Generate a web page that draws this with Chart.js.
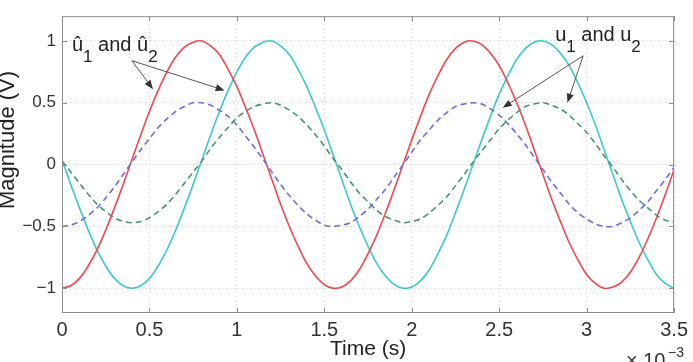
<!DOCTYPE html>
<html>
<head>
<meta charset="utf-8">
<script src="https://cdn.jsdelivr.net/npm/chart.js@4.4.1/dist/chart.umd.min.js"></script>
<style>
  html, body { margin: 0; padding: 0; background: #fff; }
  #wrap { width: 693px; height: 362px; }
</style>
</head>
<body>
<div id="wrap"><canvas id="waveChart" width="693" height="362"></canvas></div>
<script>
// time step of the samples, in ms (axis is shown as x 10^-3 s)
const sampleStepMs = 0.05;

// one value every 0.05 ms from 0 to 3.5 ms
const uHat1 = [
  -1, -0.98, -0.92, -0.82, -0.69, -0.53, -0.35, -0.16, 0.04, 0.24,
  0.43, 0.60, 0.75, 0.87, 0.95, 0.99, 1.00, 0.96, 0.89, 0.77,
  0.63, 0.46, 0.28, 0.08, -0.12, -0.32, -0.50, -0.66, -0.80, -0.90,
  -0.97, -1.00, -0.99, -0.94, -0.85, -0.72, -0.57, -0.39, -0.20, 0.00,
  0.20, 0.39, 0.57, 0.72, 0.85, 0.94, 0.99, 1.00, 0.97, 0.90,
  0.80, 0.66, 0.50, 0.32, 0.12, -0.08, -0.28, -0.46, -0.63, -0.77,
  -0.89, -0.96, -1.00, -0.99, -0.95, -0.87, -0.75, -0.60, -0.43, -0.24,
  -0.04
];
const uHat2 = [
  0.04, -0.16, -0.35, -0.53, -0.69, -0.82, -0.92, -0.98, -1, -0.98,
  -0.92, -0.82, -0.69, -0.53, -0.35, -0.16, 0.04, 0.24, 0.43, 0.60,
  0.75, 0.87, 0.95, 0.99, 1.00, 0.96, 0.89, 0.77, 0.63, 0.46,
  0.28, 0.08, -0.12, -0.32, -0.50, -0.66, -0.80, -0.90, -0.97, -1.00,
  -0.99, -0.94, -0.85, -0.72, -0.57, -0.39, -0.20, 0.00, 0.20, 0.39,
  0.57, 0.72, 0.85, 0.94, 0.99, 1.00, 0.97, 0.90, 0.80, 0.66,
  0.50, 0.32, 0.12, -0.08, -0.28, -0.46, -0.63, -0.77, -0.89, -0.96,
  -1.00
];
const u1 = [
  -0.50, -0.49, -0.46, -0.41, -0.35, -0.27, -0.18, -0.08, 0.02, 0.12,
  0.21, 0.30, 0.37, 0.43, 0.47, 0.50, 0.50, 0.48, 0.44, 0.39,
  0.32, 0.23, 0.14, 0.04, -0.06, -0.16, -0.25, -0.33, -0.40, -0.45,
  -0.49, -0.50, -0.49, -0.47, -0.42, -0.36, -0.28, -0.20, -0.10, 0.00,
  0.10, 0.20, 0.28, 0.36, 0.42, 0.47, 0.49, 0.50, 0.49, 0.45,
  0.40, 0.33, 0.25, 0.16, 0.06, -0.04, -0.14, -0.23, -0.32, -0.39,
  -0.44, -0.48, -0.50, -0.50, -0.47, -0.43, -0.37, -0.30, -0.21, -0.12,
  -0.02
];
const u2 = [
  0.03, -0.06, -0.15, -0.24, -0.32, -0.38, -0.43, -0.46, -0.47, -0.46,
  -0.43, -0.38, -0.32, -0.24, -0.15, -0.06, 0.03, 0.13, 0.22, 0.30,
  0.38, 0.43, 0.47, 0.49, 0.50, 0.48, 0.44, 0.39, 0.32, 0.24,
  0.15, 0.05, -0.04, -0.14, -0.23, -0.30, -0.37, -0.42, -0.45, -0.47,
  -0.46, -0.44, -0.39, -0.33, -0.26, -0.17, -0.08, 0.02, 0.11, 0.20,
  0.29, 0.36, 0.42, 0.47, 0.49, 0.50, 0.48, 0.45, 0.40, 0.33,
  0.26, 0.17, 0.07, -0.02, -0.12, -0.21, -0.29, -0.35, -0.41, -0.45,
  -0.47
];

const xTicks = [0, 0.5, 1, 1.5, 2, 2.5, 3, 3.5];
const yTicks = [-1, -0.5, 0, 0.5, 1];

// annotation anchors in data units (ms, V)
const hatLabel = { x: 0.057, y: 0.92 };
const hatArrowFrom = { x: 0.40, y: 0.84 };
const hatArrowTo = [{ x: 0.52, y: 0.61 }, { x: 0.93, y: 0.60 }];
const plainLabel = { x: 2.82, y: 1.0 };
const plainArrowFrom = { x: 2.98, y: 0.88 };
const plainArrowTo = [{ x: 2.52, y: 0.46 }, { x: 2.89, y: 0.50 }];

const timeMs = uHat1.map((_, i) => +(i * sampleStepMs).toFixed(2));
const toPoints = arr => arr.map((v, i) => ({ x: timeMs[i], y: v }));

const FONT = "'Liberation Sans', Arial, Helvetica, sans-serif";

function arrow(ctx, x0, y0, x1, y1) {
  const ang = Math.atan2(y1 - y0, x1 - x0);
  const len = 9, half = 3.5;
  ctx.beginPath();
  ctx.moveTo(x0, y0);
  ctx.lineTo(x1 - Math.cos(ang) * len, y1 - Math.sin(ang) * len);
  ctx.stroke();
  ctx.beginPath();
  ctx.moveTo(x1, y1);
  ctx.lineTo(x1 - Math.cos(ang) * len - Math.sin(ang) * half, y1 - Math.sin(ang) * len + Math.cos(ang) * half);
  ctx.lineTo(x1 - Math.cos(ang) * len + Math.sin(ang) * half, y1 - Math.sin(ang) * len - Math.cos(ang) * half);
  ctx.closePath();
  ctx.fill();
}

function labelWithSubs(ctx, x, y, parts) {
  // parts: [text, isSub]
  let cx = x;
  parts.forEach(([txt, sub]) => {
    ctx.font = (sub ? '17px ' : '20px ') + FONT;
    ctx.fillText(txt, cx, sub ? y + 11 : y);
    cx += ctx.measureText(txt).width;
  });
}

const framePlugin = {
  id: 'frame',
  afterDatasetsDraw(chart) {
    const { ctx, chartArea: a, scales } = chart;
    const sx = scales.x, sy = scales.y;
    ctx.save();
    // box and inward ticks
    ctx.strokeStyle = '#8c8c8c';
    ctx.lineWidth = 1;
    ctx.strokeRect(a.left + 0.5, a.top + 0.5, a.right - a.left - 1, a.bottom - a.top - 1);
    ctx.beginPath();
    xTicks.forEach(t => {
      const px = Math.round(sx.getPixelForValue(t)) + 0.5;
      ctx.moveTo(px, a.bottom); ctx.lineTo(px, a.bottom - 5);
      ctx.moveTo(px, a.top); ctx.lineTo(px, a.top + 5);
    });
    yTicks.forEach(t => {
      const py = Math.round(sy.getPixelForValue(t)) + 0.5;
      ctx.moveTo(a.left, py); ctx.lineTo(a.left + 5, py);
      ctx.moveTo(a.right, py); ctx.lineTo(a.right - 5, py);
    });
    ctx.stroke();

    // annotations
    ctx.strokeStyle = '#555';
    ctx.fillStyle = '#333';
    ctx.lineWidth = 1;
    const p = pt => [sx.getPixelForValue(pt.x), sy.getPixelForValue(pt.y)];
    const [hf0, hf1] = p(hatArrowFrom);
    hatArrowTo.forEach(t => { const [a0, a1] = p(t); arrow(ctx, hf0, hf1, a0, a1); });
    const [pf0, pf1] = p(plainArrowFrom);
    plainArrowTo.forEach(t => { const [a0, a1] = p(t); arrow(ctx, pf0, pf1, a0, a1); });

    ctx.fillStyle = '#222';
    ctx.textBaseline = 'alphabetic';
    ctx.textAlign = 'left';
    const [hx, hy] = p(hatLabel);
    labelWithSubs(ctx, hx, hy, [['û', false], ['1', true], [' and û', false], ['2', true]]);
    const [ux, uy] = p(plainLabel);
    labelWithSubs(ctx, ux, uy, [['u', false], ['1', true], [' and u', false], ['2', true]]);

    // y axis title, sits a bit above the axis centre like the original
    ctx.save();
    ctx.translate(13.5, 140);
    ctx.rotate(-Math.PI / 2);
    ctx.textAlign = 'center';
    ctx.font = '22px ' + FONT;
    ctx.fillText('Magnitude (V)', 0, 0);
    ctx.restore();

    // axis multiplier
    ctx.fillStyle = '#333';
    ctx.font = '20px ' + FONT;
    ctx.fillText('\u00d7 10', 626, 367);
    ctx.font = '14px ' + FONT;
    ctx.fillText('\u22123', 668, 357);
    ctx.restore();
  }
};

const lineDs = (label, data, color, dash) => ({
  label,
  data: toPoints(data),
  borderColor: color,
  borderWidth: 1.6,
  borderDash: dash,
  pointRadius: 0,
  tension: 0.3,
  fill: false
});

new Chart(document.getElementById('waveChart').getContext('2d'), {
  type: 'line',
  data: {
    datasets: [
      lineDs('u1', u1, 'rgba(110,110,215,1)', [6, 4]),
      lineDs('u2', u2, 'rgba(70,150,105,1)', [6, 4]),
      lineDs('û1', uHat1, 'rgba(240,70,78,1)', []),
      lineDs('û2', uHat2, 'rgba(60,200,200,1)', [])
    ]
  },
  options: {
    responsive: false,
    animation: false,
    layout: { padding: { left: 0, right: 15, top: 4, bottom: 0 } },
    plugins: { legend: { display: false }, tooltip: { enabled: false } },
    scales: {
      x: {
        type: 'linear',
        min: 0,
        max: 3.5,
        afterFit: s => { s.height = 49; },
        afterBuildTicks: s => { s.ticks = xTicks.map(v => ({ value: v })); },
        grid: { color: '#cfcfcf', drawTicks: false },
        border: { display: false, dash: [1, 3] },
        ticks: {
          padding: 5,
          color: '#333',
          font: { family: FONT, size: 20 },
          callback: v => String(v)
        },
        title: {
          display: true,
          text: 'Time (s)',
          color: '#222',
          font: { family: FONT, size: 21, lineHeight: 1.2 },
          padding: { top: 0, bottom: 0 }
        }
      },
      y: {
        min: -1.2,
        max: 1.2,
        afterFit: s => { s.width = 62; },
        afterBuildTicks: s => { s.ticks = yTicks.map(v => ({ value: v })); },
        grid: { color: '#cfcfcf', drawTicks: false },
        border: { display: false, dash: [1, 3] },
        ticks: {
          padding: 6,
          color: '#333',
          font: { family: FONT, size: 17 },
          callback: v => String(v).replace('-', '\u2212')
        }
      }
    }
  },
  plugins: [framePlugin]
});
</script>
</body>
</html>
